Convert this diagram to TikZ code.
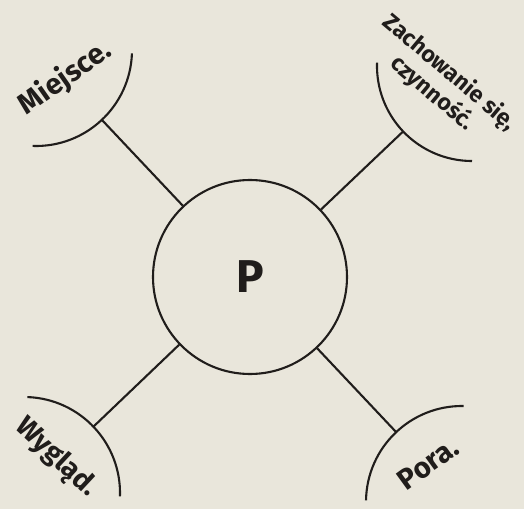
\documentclass[tikz,border=0pt]{standalone}
\usepackage{fontspec}
\setsansfont{Fira Sans}
\usetikzlibrary{calc}
\definecolor{paper}{RGB}{233,230,219}
\definecolor{ink}{RGB}{32,29,27}

\begin{document}
\begin{tikzpicture}[x=1pt, y=1pt,
    spoke/.style={draw=ink, line width=2.1pt},
    centre/.style={
        circle, draw=ink, line width=2.1pt,
        minimum size=194pt, inner sep=0pt,
        font=\sffamily\bfseries\fontsize{46}{46}\selectfont, text=ink
    },
    lbl/.style={
        font=\sffamily\bfseries\fontsize{#1}{27}\selectfont,
        text=ink, inner sep=0pt, align=center
    }
]
    % Paper
    \fill[paper] (0,0) rectangle (524,509);
    \useasboundingbox (0,0) rectangle (524,509);

    % Centre circle
    \node[centre] (p) at (250,232) {P};

    % Centres of the corner arcs
    \coordinate (tl) at (36,459);
    \coordinate (tr) at (472,443);
    \coordinate (bl) at (24,16);
    \coordinate (br) at (462,7);

    % Feet of the spokes on the arcs
    \coordinate (tlF) at ($(tl)!96pt!(p)$);
    \coordinate (trF) at ($(tr)!95pt!(p)$);
    \coordinate (blF) at ($(bl)!96pt!(p)$);
    \coordinate (brF) at ($(br)!96pt!(p)$);

    % Arcs
    \draw[spoke] (tl) ++(-92:96pt) arc[start angle=-92, end angle=-2, radius=96pt];
    \draw[spoke] (tr) ++(178:95pt) arc[start angle=178, end angle=270, radius=95pt];
    \draw[spoke] (bl) ++(-2:96pt) arc[start angle=-2, end angle=88, radius=96pt];
    \draw[spoke] (br) ++(89:96pt) arc[start angle=89, end angle=179, radius=96pt];

    % Spokes
    \draw[spoke] (p) -- (tlF);
    \draw[spoke] (p) -- (trF);
    \draw[spoke] (p) -- (blF);
    \draw[spoke] (p) -- (brF);

    % Labels
    \node[lbl=29, rotate=35] (miejsce) at ($(tl)+(29,-28)$) {Miejsce.};
    \node[lbl=23, rotate=-40] (zach) at ($(tr)+(-31,-17)$) {Zachowanie się,\\czynność.};
    \node[lbl=28, rotate=-43] (wyglad) at ($(bl)+(32,35)$) {Wygląd.};
    \node[lbl=29, rotate=36] (pora) at ($(br)+(-34,38)$) {Pora.};
\end{tikzpicture}
\end{document}
